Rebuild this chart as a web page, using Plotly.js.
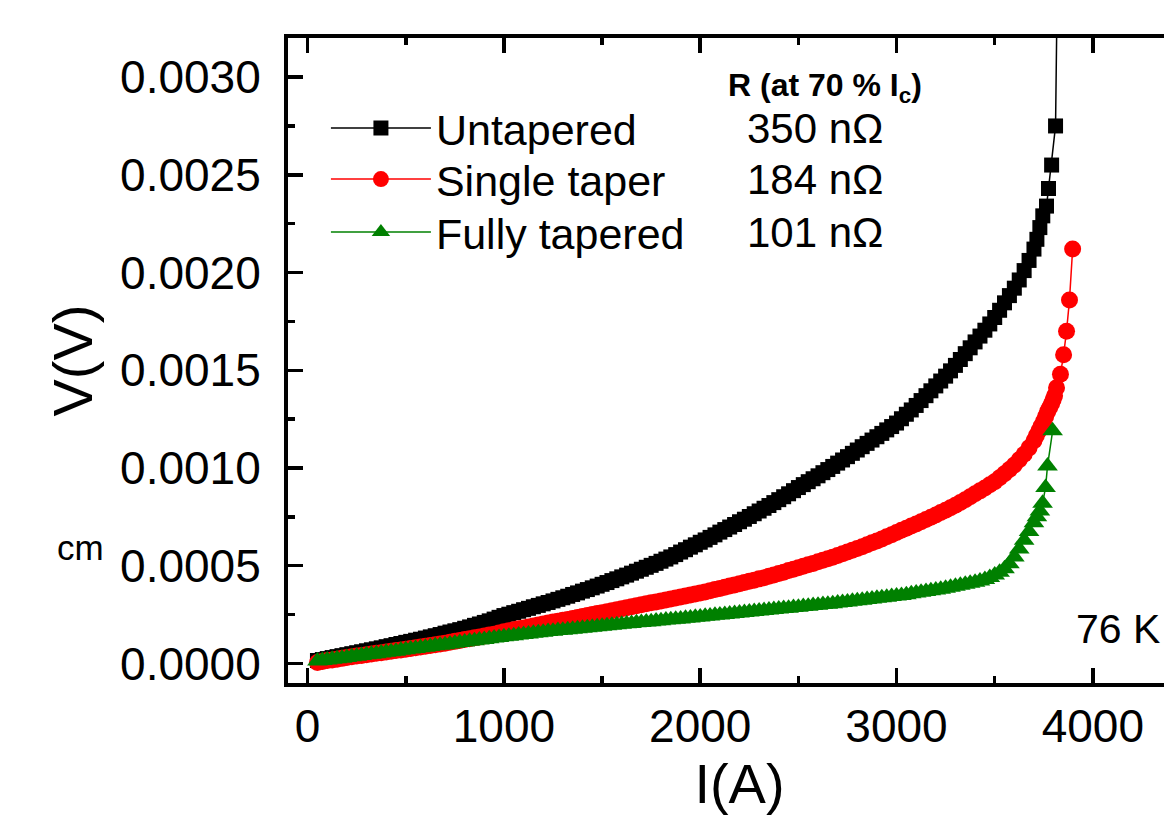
<!DOCTYPE html>
<html><head><meta charset="utf-8">
<script src="https://cdn.plot.ly/plotly-3.0.1.min.js"></script>
<style>html,body{margin:0;padding:0;overflow:hidden;background:#fff}#chart{width:1200px;height:819px}</style>
</head><body><div id="chart"></div>
<script>
// ---- data (current in A, voltage in units of 1e-4 V) ----
const seriesNames = ['Untapered', 'Single taper', 'Fully tapered'];
const resistanceLabels = ['350 n\u03A9', '184 n\u03A9', '101 n\u03A9'];
const baseCurrent = [
  50,75,100,125,150,175,200,225,250,275,300,325,350,375,400,425,450,475,500,525,
  550,575,600,625,650,675,700,725,750,775,800,825,850,875,900,925,950,975,1000,1025,
  1050,1075,1100,1125,1150,1175,1200,1225,1250,1275,1300,1325,1350,1375,1400,1425,1450,1475,1500,1525,
  1550,1575,1600,1625,1650,1675,1700,1725,1750,1775,1800,1825,1850,1875,1900,1925,1950,1975,2000,2025,
  2050,2075,2100,2125,2150,2175,2200,2225,2250,2275,2300,2325,2350,2375,2400,2425,2450,2475,2500,2525,
  2550,2575,2600,2625,2650,2675,2700,2725,2750,2775,2800,2825,2850,2875,2900,2925,2950,2975,3000,3025,
  3050,3075,3100,3125,3150,3175,3200,3225,3250,3275,3300,3325,3350,3375,3400,3425,3450,3475,3500,3525,
  3550,3575,3600,3625,3650,3675,3700];

const untaperedV = [
  0.15,0.20,0.25,0.30,0.35,0.40,0.45,0.50,0.55,0.60,0.65,0.70,0.75,0.80,0.86,0.91,0.97,1.02,1.08,1.13,
  1.19,1.24,1.30,1.36,1.42,1.48,1.55,1.61,1.67,1.73,1.80,1.87,1.95,2.02,2.10,2.18,2.27,2.36,2.45,2.52,
  2.60,2.67,2.75,2.82,2.90,2.97,3.05,3.12,3.20,3.28,3.36,3.44,3.53,3.61,3.70,3.78,3.87,3.96,4.05,4.14,
  4.24,4.33,4.43,4.52,4.62,4.72,4.82,4.92,5.02,5.12,5.23,5.34,5.45,5.57,5.70,5.82,5.95,6.07,6.20,6.32,
  6.45,6.58,6.72,6.85,6.98,7.11,7.25,7.38,7.52,7.66,7.80,7.94,8.08,8.23,8.38,8.53,8.68,8.84,9.00,9.15,
  9.30,9.45,9.60,9.76,9.92,10.08,10.25,10.41,10.58,10.75,10.92,11.09,11.26,11.43,11.60,11.77,11.95,12.12,12.30,12.52,
  12.75,12.97,13.20,13.45,13.70,13.95,14.20,14.45,14.70,14.97,15.25,15.55,15.85,16.15,16.45,16.75,17.05,17.37,17.70,18.07,
  18.45,18.82,19.20,19.62,20.10,20.62,21.20];
const untaperedTailI = [3715,3730,3745,3764,3774,3790,3810,3825];
const untaperedTailV = [21.7,22.3,22.9,23.4,24.3,25.5,27.5,40.0];

const singleV = [
  0.05,0.10,0.15,0.18,0.22,0.26,0.30,0.34,0.38,0.41,0.45,0.48,0.52,0.55,0.59,0.62,0.66,0.69,0.73,0.76,
  0.80,0.84,0.88,0.92,0.96,1.00,1.04,1.08,1.13,1.17,1.22,1.26,1.31,1.35,1.40,1.45,1.50,1.56,1.62,1.67,
  1.72,1.77,1.82,1.87,1.92,1.97,2.02,2.07,2.12,2.16,2.21,2.25,2.30,2.35,2.40,2.45,2.50,2.55,2.60,2.65,
  2.70,2.75,2.80,2.85,2.90,2.95,3.00,3.05,3.10,3.15,3.20,3.25,3.30,3.35,3.40,3.45,3.50,3.55,3.60,3.66,
  3.72,3.78,3.84,3.90,3.96,4.02,4.08,4.14,4.20,4.26,4.33,4.39,4.46,4.53,4.60,4.67,4.75,4.82,4.90,4.97,
  5.05,5.12,5.20,5.28,5.36,5.44,5.52,5.61,5.70,5.79,5.88,5.97,6.07,6.17,6.27,6.37,6.48,6.59,6.70,6.81,
  6.92,7.03,7.14,7.25,7.37,7.48,7.60,7.72,7.84,7.97,8.10,8.24,8.38,8.53,8.68,8.83,8.98,9.14,9.30,9.50,
  9.70,9.92,10.15,10.42,10.70,11.03,11.40];
const singleTailI = [3712,3725,3737,3750,3760,3770,3780,3790,3798,3805,3815,3835,3851,3866,3881,3897];
const singleTailV = [11.65,11.9,12.15,12.4,12.65,12.9,13.1,13.3,13.5,13.7,14.1,14.8,15.8,17.0,18.6,21.2];

const fullyV = [
  0.12,0.15,0.18,0.21,0.24,0.27,0.30,0.34,0.37,0.41,0.44,0.47,0.50,0.54,0.57,0.60,0.63,0.67,0.70,0.74,
  0.77,0.80,0.83,0.87,0.90,0.93,0.96,1.00,1.03,1.07,1.10,1.13,1.16,1.20,1.23,1.27,1.30,1.33,1.36,1.39,
  1.42,1.45,1.48,1.51,1.54,1.57,1.60,1.63,1.65,1.68,1.70,1.73,1.75,1.78,1.80,1.83,1.85,1.88,1.90,1.93,
  1.95,1.98,2.00,2.03,2.05,2.08,2.10,2.12,2.14,2.17,2.19,2.22,2.24,2.26,2.28,2.31,2.33,2.36,2.38,2.41,
  2.43,2.46,2.48,2.51,2.53,2.56,2.58,2.61,2.63,2.66,2.68,2.71,2.73,2.76,2.78,2.81,2.83,2.86,2.88,2.91,
  2.93,2.96,2.98,3.01,3.03,3.06,3.09,3.12,3.15,3.18,3.21,3.24,3.27,3.30,3.33,3.36,3.39,3.42,3.45,3.48,
  3.52,3.56,3.60,3.64,3.68,3.72,3.76,3.80,3.85,3.90,3.95,4.00,4.05,4.10,4.15,4.22,4.30,4.40,4.52,4.66,
  4.85,5.10,5.45,5.85,6.30,6.75,7.20];
const fullyTailI = [3715,3730,3744,3759,3769,3795];
const fullyTailV = [7.5,7.8,8.2,9.0,10.1,11.9];

const xTickVals = [0,1000,2000,3000,4000];
const xTickText = ['0','1000','2000','3000','4000'];
const yTickVals = [0,0.0005,0.001,0.0015,0.002,0.0025,0.003];
const yTickText = ['0.0000','0.0005','0.0010','0.0015','0.0020','0.0025','0.0030'];

// ---- build traces ----
const FONT = '"Liberation Sans", Arial, Helvetica, sans-serif';
const toVolt = a => a.map(v => v * 1e-4);
const colors = ['#000000', '#ff0000', '#008000'];
const symbols = ['square', 'circle', 'triangle-up'];
const sizes = [15, 17, 18];
const legendIds = ['legend', 'legend2', 'legend3'];
const xs = [baseCurrent.concat(untaperedTailI), baseCurrent.concat(singleTailI), baseCurrent.concat(fullyTailI)];
const ys = [toVolt(untaperedV.concat(untaperedTailV)), toVolt(singleV.concat(singleTailV)), toVolt(fullyV.concat(fullyTailV))];

const traces = seriesNames.map((name, i) => ({
  type: 'scatter', mode: 'lines+markers', name: name, legend: legendIds[i],
  x: xs[i], y: ys[i],
  line: {color: colors[i], width: 1.5},
  marker: {color: colors[i], symbol: symbols[i], size: sizes[i], line: {width: 0}}
}));

const rowY = [0.8604, 0.7812, 0.699];
const ann = [];
ann.push({xref:'paper', yref:'paper', x:0.5947, y:0.924, xanchor:'center', yanchor:'middle', showarrow:false,
  text:'<b>R (at 70 % I<sub>c</sub>)</b>', font:{size:32, family:FONT, color:'#000'}});
resistanceLabels.forEach((t, i) => ann.push({xref:'paper', yref:'paper', x:0.5847, y:rowY[i], xanchor:'center', yanchor:'middle',
  showarrow:false, text:t, font:{size:42, family:FONT, color:'#000'}}));
ann.push({xref:'paper', yref:'paper', x:0.968, y:0.083, xanchor:'right', yanchor:'middle', showarrow:false,
  text:'76 K', font:{size:41, family:FONT, color:'#000'}});
ann.push({xref:'paper', yref:'paper', x:-0.2303, y:0.2102, xanchor:'center', yanchor:'middle', showarrow:false,
  text:'cm', font:{size:35, family:FONT, color:'#000'}});

const axisCommon = {
  showline: true, linecolor: '#000', linewidth: 4, ticks: 'inside', ticklen: 15, tickwidth: 3.5, tickcolor: '#000',
  showgrid: false, zeroline: false, tickfont: {size: 46, family: FONT, color: '#000'}
};
const legendBase = i => ({x: 0.042, y: rowY[i], xanchor: 'left', yanchor: 'middle', bgcolor: 'rgba(0,0,0,0)',
  font: {size: 43, family: FONT, color: '#000'}, itemwidth: 100});
const layout = {
  width: 1200, height: 819,
  margin: {l: 288, r: 9, t: 38, b: 136, pad: 0},
  paper_bgcolor: '#fff', plot_bgcolor: '#fff',
  font: {family: FONT, color: '#000'},
  showlegend: true,
  legend: legendBase(0), legend2: legendBase(1), legend3: legendBase(2),
  xaxis: Object.assign({}, axisCommon, {
    range: [-100, 4500], tickmode: 'array', tickvals: xTickVals, ticktext: xTickText, mirror: 'ticks',
    ticklabelstandoff: 0,
    minor: {dtick: 500, tick0: 0, ticks: 'inside', ticklen: 7, tickwidth: 3.5, tickcolor: '#000', showgrid: false},
    title: {text: 'I(A)', font: {size: 56, family: FONT, color: '#000'}, standoff: 10}
  }),
  yaxis: Object.assign({}, axisCommon, {
    range: [-0.0001, 0.0032], tickmode: 'array', tickvals: yTickVals, ticktext: yTickText, mirror: false,
    ticklabelstandoff: 14,
    minor: {dtick: 0.00025, tick0: 0, ticks: 'inside', ticklen: 7, tickwidth: 3.5, tickcolor: '#000', showgrid: false},
    title: {text: 'V(V)', font: {size: 56, family: FONT, color: '#000'}, standoff: 10}
  }),
  annotations: ann
};
Plotly.newPlot('chart', traces, layout, {displayModeBar: false, staticPlot: true});
</script></body></html>
